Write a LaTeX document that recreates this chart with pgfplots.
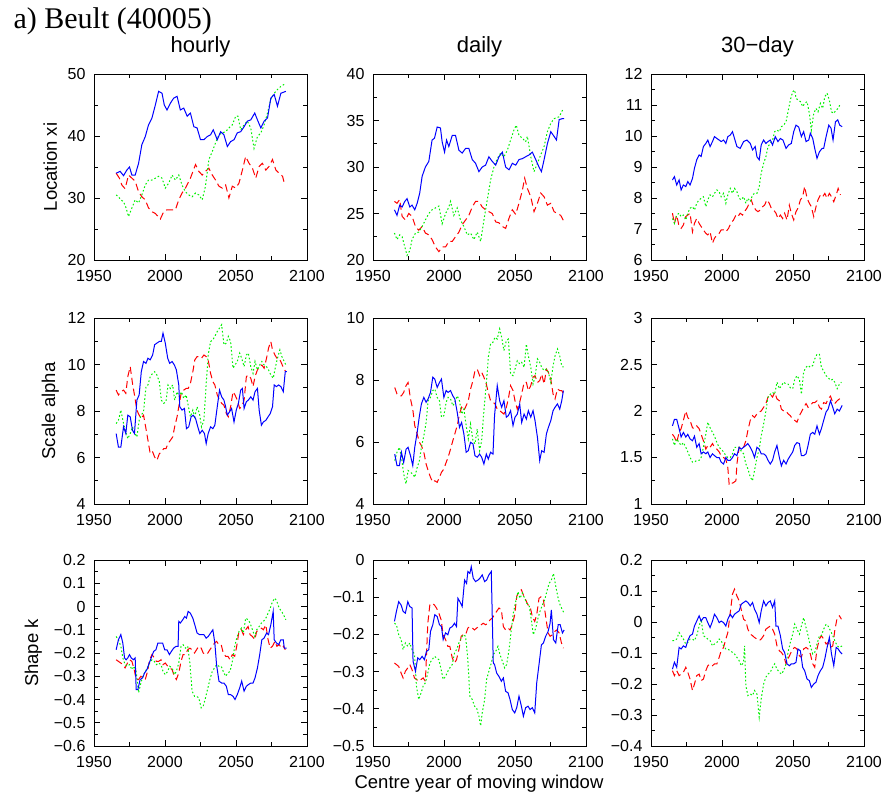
\documentclass[border=0pt]{standalone}
\usepackage{fontspec}
\setmainfont{Liberation Serif}
\setsansfont{Liberation Sans}
\usepackage{pgfplots}
\pgfplotsset{compat=1.18}
\definecolor{gpblue}{RGB}{0,0,255}
\definecolor{gpred}{RGB}{255,0,0}
\definecolor{gpgreen}{RGB}{0,240,0}
\pgfplotsset{
  panel/.style={
    scale only axis, width=213pt, height=186pt, anchor=north west,
    xmin=1950, xmax=2100, xtick={1950,2000,2050,2100},
    xticklabels={1950,2000,2050,2100},
    minor x tick num=1, minor y tick num=1,
    tick align=inside,
    major tick length=6pt, minor tick length=4pt,
    tick style={black, line width=0.8pt},
    axis line style={black, line width=1pt},
    tick label style={font=\sffamily\fontsize{16}{16}\selectfont, text=black},
    xticklabel style={yshift=-6.5pt},
    yticklabel style={xshift=-5pt},
    every axis y label/.style={at={(axis description cs:-0.205,0.5)}, rotate=90, anchor=center, font=\sffamily\fontsize{18.5}{18.5}\selectfont},
    every axis title/.style={font=\sffamily\fontsize{22}{22}\selectfont, at={(axis description cs:0.5,1.113)}, anchor=base},
  },
  bl/.style={gpblue, line width=1pt, solid},
  rd/.style={gpred, line width=1pt, dash pattern=on 7pt off 4pt},
  gr/.style={gpgreen, line width=1pt, dash pattern=on 1.6pt off 2.2pt},
}
\begin{document}
\begin{tikzpicture}
% ---------------- Row 1: Location xi ----------------
\begin{axis}[panel, at={(94pt,-74pt)}, ymin=20, ymax=50, ytick={20,30,40,50}, yticklabels={20,30,40,50}, ylabel={Location xi}, title={hourly}]
\addplot[rd] coordinates {(1965.6,34.0)(1967.9,33.2)(1969.6,32.1)(1971.9,31.5)(1974.3,33.7)(1976.7,33.2)(1979.0,32.7)(1981.4,31.0)(1983.7,30.2)(1986.1,29.7)(1988.4,28.4)(1990.8,27.8)(1993.2,27.5)(1996.7,26.6)(1999.1,27.8)(2001.4,28.1)(2005.0,28.1)(2007.3,28.1)(2009.7,29.7)(2012.0,30.8)(2014.4,31.6)(2017.9,33.2)(2021.5,35.4)(2023.8,34.3)(2026.2,33.7)(2028.5,34.3)(2030.9,34.8)(2033.3,33.7)(2035.6,32.9)(2038.0,31.9)(2040.3,31.6)(2042.7,32.1)(2045.0,30.0)(2047.4,31.9)(2049.8,31.6)(2052.1,32.4)(2054.5,34.5)(2056.8,36.7)(2059.2,35.6)(2061.6,34.8)(2063.9,33.2)(2066.3,35.1)(2068.6,35.6)(2071.0,34.5)(2073.3,35.1)(2075.7,36.2)(2078.1,34.5)(2080.4,34.0)(2082.8,33.5)(2084.0,32.4)};
\addplot[gr] coordinates {(1965.6,30.5)(1967.2,30.2)(1968.9,29.7)(1970.8,29.4)(1972.6,28.4)(1974.3,27.0)(1976.7,28.4)(1979.0,29.7)(1981.4,29.2)(1983.7,30.5)(1986.1,32.1)(1988.4,32.9)(1990.8,32.9)(1993.2,33.2)(1995.5,33.5)(1997.9,33.2)(2000.2,31.6)(2002.6,32.4)(2005.0,33.7)(2007.3,32.9)(2009.7,33.7)(2012.0,32.1)(2014.4,31.0)(2016.7,30.5)(2019.1,30.2)(2021.5,30.8)(2023.8,30.5)(2026.2,29.7)(2028.5,31.9)(2030.9,36.2)(2033.3,37.5)(2035.6,38.9)(2038.0,40.2)(2040.3,40.5)(2042.7,40.7)(2045.0,41.3)(2047.4,41.8)(2049.8,43.2)(2051.4,43.2)(2053.3,41.0)(2055.7,41.8)(2058.0,42.4)(2060.4,41.3)(2062.7,38.0)(2065.1,39.9)(2067.5,40.5)(2069.8,41.8)(2072.2,43.7)(2074.5,45.9)(2076.9,46.9)(2079.2,47.5)(2081.6,48.0)(2085.1,48.5)};
\addplot[bl] coordinates {(1965.6,34.0)(1968.4,34.3)(1970.8,33.6)(1973.1,34.5)(1975.0,35.0)(1976.7,33.7)(1979.0,33.7)(1981.4,35.6)(1983.7,38.6)(1986.1,39.9)(1988.4,41.8)(1990.8,42.9)(1993.2,45.0)(1995.5,47.2)(1997.9,46.9)(1999.5,45.0)(2001.4,44.2)(2003.8,45.3)(2006.1,46.1)(2008.5,46.4)(2010.8,44.2)(2013.2,44.5)(2015.6,43.2)(2017.9,43.7)(2020.3,41.5)(2022.6,41.3)(2025.0,39.4)(2027.4,39.4)(2029.7,39.9)(2032.1,40.2)(2034.0,41.0)(2036.8,39.4)(2039.2,40.7)(2041.5,40.2)(2043.9,38.3)(2046.2,39.1)(2048.6,39.4)(2050.9,40.5)(2053.3,40.7)(2055.7,41.5)(2058.0,42.4)(2060.4,42.6)(2063.2,43.7)(2065.1,42.6)(2067.5,41.3)(2069.8,42.4)(2072.2,42.9)(2074.5,46.1)(2076.9,46.7)(2079.2,44.8)(2081.6,46.9)(2085.1,47.2)};
\end{axis}
\begin{axis}[panel, at={(373pt,-74pt)}, ymin=20, ymax=40, ytick={20,25,30,35,40}, yticklabels={20,25,30,35,40}, title={daily}]
\addplot[rd] coordinates {(1965.1,26.3)(1966.9,26.1)(1968.8,26.5)(1970.5,24.7)(1972.8,24.3)(1975.2,25.0)(1977.5,24.7)(1979.9,23.6)(1982.2,23.2)(1984.6,23.6)(1986.9,22.9)(1989.3,22.7)(1991.6,22.2)(1994.0,21.4)(1996.4,20.9)(1998.7,21.4)(2001.1,21.4)(2003.4,22.0)(2005.8,22.0)(2008.1,22.5)(2010.5,23.0)(2012.8,23.8)(2015.2,24.3)(2017.5,24.8)(2019.9,25.7)(2022.2,26.3)(2024.6,26.3)(2026.9,25.7)(2029.3,25.4)(2031.6,25.2)(2034.0,25.0)(2036.4,24.1)(2038.7,24.0)(2041.1,23.6)(2043.4,23.4)(2045.8,24.5)(2048.1,25.4)(2050.5,24.9)(2052.8,26.1)(2055.2,27.5)(2056.8,28.8)(2058.7,27.7)(2061.1,26.8)(2063.4,25.2)(2065.8,26.1)(2068.1,27.2)(2070.5,26.8)(2072.8,25.9)(2075.2,26.1)(2077.5,25.2)(2079.9,25.0)(2082.2,24.8)(2084.6,24.1)};
\addplot[gr] coordinates {(1965.1,22.9)(1966.9,22.2)(1968.8,22.7)(1970.5,22.5)(1972.4,21.4)(1974.0,20.5)(1975.9,21.0)(1977.5,22.2)(1979.9,22.9)(1982.2,23.0)(1984.6,23.6)(1986.9,24.3)(1989.3,25.0)(1991.6,25.4)(1994.0,25.6)(1996.4,25.8)(1998.7,23.9)(2001.1,25.0)(2003.4,25.7)(2004.6,26.3)(2006.9,24.8)(2009.3,25.6)(2011.6,24.3)(2014.0,23.6)(2016.4,22.7)(2018.7,22.9)(2021.1,22.2)(2023.4,23.0)(2025.8,22.0)(2028.1,24.3)(2030.5,26.5)(2032.8,28.6)(2035.2,30.0)(2037.5,30.9)(2039.9,31.5)(2042.2,31.1)(2044.6,31.8)(2046.9,32.9)(2049.3,34.0)(2050.9,34.5)(2052.8,33.4)(2055.2,33.1)(2057.5,32.7)(2058.7,33.3)(2061.1,31.1)(2063.4,29.5)(2065.8,30.4)(2068.1,31.3)(2070.5,32.2)(2072.8,33.8)(2075.2,34.7)(2077.5,35.2)(2081.1,35.4)(2084.1,36.3)};
\addplot[bl] coordinates {(1965.1,25.4)(1966.9,24.8)(1968.8,25.9)(1970.5,25.7)(1972.4,26.3)(1974.0,26.6)(1975.9,25.7)(1977.5,25.9)(1979.4,25.4)(1981.1,26.1)(1982.9,27.2)(1984.6,29.0)(1986.9,30.0)(1989.3,30.6)(1991.6,32.9)(1993.3,33.1)(1995.2,34.3)(1997.5,34.2)(1998.7,32.7)(2000.4,31.6)(2001.8,32.9)(2003.4,32.2)(2005.8,33.4)(2008.1,33.4)(2010.5,31.8)(2012.8,31.5)(2015.2,32.0)(2017.5,32.0)(2019.9,30.8)(2022.2,30.4)(2024.6,29.5)(2026.9,30.0)(2029.3,30.2)(2031.6,31.1)(2034.0,30.6)(2036.4,30.2)(2038.7,31.1)(2041.1,31.6)(2043.4,30.0)(2045.8,29.7)(2048.1,30.4)(2050.5,30.2)(2052.8,30.8)(2055.2,30.9)(2057.5,31.1)(2059.9,31.3)(2062.2,31.6)(2064.6,30.8)(2066.9,30.0)(2068.6,29.5)(2070.5,30.8)(2072.8,32.5)(2075.2,33.8)(2077.5,33.3)(2079.2,32.9)(2081.1,35.1)(2083.4,35.2)(2084.6,35.2)};
\end{axis}
\begin{axis}[panel, at={(651pt,-74pt)}, ymin=6, ymax=12, ytick={6,7,8,9,10,11,12}, yticklabels={6,7,8,9,10,11,12}, title={30−day}]
\addplot[rd] coordinates {(1965.1,7.51)(1966.5,7.18)(1968.1,7.45)(1969.8,7.08)(1971.2,7.02)(1972.8,7.13)(1974.5,7.40)(1975.9,7.45)(1977.5,7.51)(1979.2,6.91)(1980.6,7.18)(1982.2,7.34)(1983.9,7.18)(1985.3,7.08)(1986.9,6.97)(1988.6,6.86)(1990.0,6.81)(1991.6,6.91)(1993.3,6.54)(1994.7,6.70)(1996.4,6.81)(1998.0,6.86)(1999.4,6.97)(2001.1,6.97)(2002.7,6.91)(2004.6,7.02)(2006.2,7.18)(2008.1,7.29)(2009.8,7.45)(2011.2,7.40)(2012.8,7.51)(2014.5,7.45)(2015.9,7.56)(2017.5,7.67)(2019.2,7.83)(2020.6,7.94)(2022.2,7.72)(2023.9,7.61)(2025.3,7.56)(2026.9,7.61)(2028.6,7.72)(2030.0,7.77)(2031.6,7.94)(2033.3,7.83)(2034.7,7.67)(2036.4,7.61)(2038.0,7.51)(2039.4,7.34)(2041.1,7.45)(2042.7,7.34)(2044.1,7.51)(2045.8,7.29)(2047.4,7.77)(2048.8,7.51)(2050.5,7.29)(2052.1,7.56)(2053.5,7.67)(2055.2,7.94)(2056.8,8.04)(2058.2,8.37)(2059.9,7.99)(2061.5,7.83)(2062.9,7.72)(2064.6,7.40)(2066.2,7.72)(2067.6,7.94)(2069.3,8.10)(2070.9,8.04)(2072.4,8.15)(2074.0,7.99)(2075.6,8.15)(2077.1,8.04)(2078.7,7.88)(2080.4,8.10)(2081.8,8.31)(2083.4,8.10)};
\addplot[gr] coordinates {(1965.1,7.34)(1966.5,7.18)(1968.1,7.45)(1969.8,7.51)(1971.2,7.40)(1972.8,7.45)(1974.5,7.29)(1975.9,7.51)(1977.5,7.67)(1979.2,7.72)(1980.6,7.61)(1982.2,7.83)(1983.9,7.94)(1985.3,7.99)(1986.9,8.04)(1988.6,7.72)(1990.0,7.94)(1991.6,8.10)(1993.3,8.04)(1994.7,8.15)(1996.4,8.26)(1998.0,8.20)(1999.4,8.04)(2001.1,8.15)(2002.7,7.83)(2004.1,8.10)(2005.8,8.31)(2007.4,8.15)(2008.8,8.31)(2010.5,8.20)(2012.1,7.99)(2013.5,7.94)(2015.2,8.04)(2016.8,7.83)(2018.2,7.99)(2019.9,7.88)(2021.5,8.10)(2022.9,8.15)(2024.6,8.15)(2026.2,8.37)(2027.6,8.80)(2029.3,9.12)(2030.9,9.33)(2032.4,9.66)(2034.0,9.76)(2035.6,9.87)(2037.1,10.14)(2038.7,10.19)(2040.4,10.14)(2041.8,10.30)(2043.4,10.35)(2045.1,10.46)(2046.5,10.78)(2048.1,11.16)(2049.8,11.43)(2051.2,11.48)(2052.1,11.22)(2053.5,11.16)(2055.2,11.11)(2056.8,10.95)(2058.2,11.05)(2059.9,11.11)(2061.5,10.73)(2062.9,10.19)(2064.6,10.73)(2066.2,10.89)(2067.6,10.78)(2069.3,11.05)(2070.9,10.89)(2072.4,11.27)(2074.0,11.38)(2075.6,11.16)(2077.1,10.78)(2078.7,10.73)(2080.4,10.84)(2081.8,10.89)(2083.4,11.05)};
\addplot[bl] coordinates {(1965.1,8.58)(1966.5,8.69)(1968.1,8.42)(1969.8,8.58)(1971.2,8.26)(1972.8,8.42)(1974.5,8.37)(1975.9,8.53)(1977.5,8.42)(1979.2,8.63)(1980.6,8.96)(1982.2,9.23)(1983.9,9.39)(1985.3,9.34)(1986.9,9.66)(1988.6,9.76)(1990.0,9.87)(1991.6,9.66)(1993.3,9.82)(1994.7,9.98)(1996.4,9.92)(1998.0,9.87)(1999.4,9.82)(2001.1,9.87)(2002.7,9.76)(2004.1,9.98)(2005.8,10.03)(2007.4,10.14)(2008.8,9.92)(2010.5,9.66)(2012.8,9.60)(2015.2,9.82)(2017.5,9.87)(2019.9,9.76)(2021.5,9.55)(2023.4,9.66)(2024.6,9.33)(2026.2,9.23)(2027.6,9.71)(2029.3,9.87)(2030.9,9.76)(2032.4,9.82)(2034.0,9.87)(2035.6,9.71)(2037.5,9.98)(2039.4,9.82)(2041.1,9.92)(2042.9,9.87)(2045.1,9.60)(2046.9,9.71)(2048.8,9.76)(2050.5,10.14)(2052.1,10.35)(2054.0,10.29)(2055.9,9.98)(2057.5,10.14)(2059.2,9.82)(2061.1,9.87)(2062.2,10.09)(2063.9,9.92)(2065.3,9.60)(2066.9,9.28)(2068.6,9.49)(2070.5,9.60)(2071.6,9.60)(2073.3,9.98)(2075.2,10.35)(2076.8,10.25)(2078.2,9.87)(2079.9,10.46)(2081.5,10.52)(2082.9,10.35)(2084.6,10.30)};
\end{axis}
% ---------------- Row 2: Scale alpha ----------------
\begin{axis}[panel, at={(94pt,-318pt)}, ymin=4, ymax=12, ytick={4,6,8,10,12}, yticklabels={4,6,8,10,12}, ylabel={Scale alpha}]
\addplot[rd] coordinates {(1965.6,8.90)(1967.2,8.69)(1968.9,8.83)(1970.8,8.90)(1972.4,8.76)(1973.8,9.48)(1975.5,9.91)(1977.1,9.19)(1978.5,8.69)(1980.2,8.04)(1981.8,7.82)(1983.3,7.68)(1984.9,7.82)(1986.6,7.24)(1988.0,6.74)(1989.6,6.16)(1991.3,6.24)(1992.7,6.02)(1994.3,5.88)(1996.0,6.16)(1997.4,6.24)(1999.1,6.38)(2000.7,6.38)(2002.1,6.60)(2003.8,6.74)(2005.4,6.88)(2006.8,7.32)(2008.5,7.75)(2010.1,8.33)(2011.6,8.83)(2013.2,8.90)(2014.9,8.97)(2016.3,8.97)(2017.9,9.19)(2019.6,9.69)(2021.0,10.20)(2022.6,10.34)(2024.3,10.34)(2025.7,10.27)(2027.4,10.41)(2029.0,10.34)(2030.4,10.20)(2032.1,9.62)(2033.7,9.26)(2035.1,9.12)(2036.8,8.69)(2038.4,8.47)(2039.9,8.33)(2041.5,8.25)(2043.2,7.89)(2044.6,7.75)(2046.2,8.18)(2047.9,8.83)(2049.3,8.69)(2050.9,8.47)(2052.6,8.11)(2054.0,8.18)(2055.7,8.47)(2057.3,9.48)(2058.7,9.55)(2060.4,9.41)(2062.0,9.05)(2063.4,9.48)(2065.1,9.77)(2066.7,9.91)(2068.2,9.98)(2069.8,9.84)(2071.5,10.27)(2072.9,10.70)(2074.5,10.99)(2075.7,10.63)(2077.4,10.41)(2078.8,10.27)(2080.4,10.27)(2082.1,10.05)(2083.5,9.84)(2085.1,9.69)};
\addplot[gr] coordinates {(1965.6,7.46)(1967.2,7.60)(1968.9,8.04)(1970.8,7.46)(1972.4,7.10)(1973.8,6.81)(1975.5,7.03)(1977.1,7.32)(1978.5,7.10)(1980.2,6.88)(1981.8,7.60)(1983.3,7.82)(1984.9,7.97)(1986.6,9.05)(1988.0,9.12)(1989.6,9.48)(1991.3,9.62)(1992.7,9.69)(1994.3,9.55)(1996.0,9.26)(1997.4,8.47)(1999.1,8.33)(2000.7,8.40)(2002.1,9.12)(2003.8,8.97)(2005.4,9.12)(2006.8,8.47)(2008.5,8.83)(2010.1,8.61)(2011.6,8.83)(2013.2,8.54)(2014.9,8.69)(2016.3,8.25)(2017.9,7.75)(2019.6,8.04)(2021.0,7.75)(2022.6,8.18)(2024.3,7.89)(2025.7,7.32)(2027.4,7.60)(2029.0,9.19)(2030.4,10.41)(2032.1,10.99)(2033.7,11.06)(2035.1,11.21)(2036.8,11.42)(2038.4,11.57)(2039.9,11.71)(2041.5,10.85)(2043.2,10.92)(2044.6,11.21)(2046.2,10.99)(2047.9,9.84)(2049.3,9.98)(2050.9,10.13)(2052.6,10.49)(2054.0,10.27)(2055.7,9.91)(2057.3,10.41)(2058.7,10.49)(2060.4,9.91)(2062.0,9.62)(2063.4,10.13)(2065.1,9.77)(2066.7,9.98)(2068.2,10.13)(2069.8,9.98)(2071.5,9.91)(2072.9,9.77)(2074.5,9.55)(2076.2,9.41)(2077.6,9.84)(2079.2,10.27)(2080.9,10.63)(2082.3,10.34)(2084.0,10.13)(2085.1,9.98)};
\addplot[bl] coordinates {(1965.6,7.03)(1967.2,6.45)(1968.9,6.45)(1970.8,7.32)(1972.4,7.03)(1973.8,7.82)(1975.5,7.75)(1977.1,7.17)(1978.5,7.03)(1980.2,8.47)(1981.8,8.69)(1983.3,9.69)(1984.9,10.13)(1986.6,10.05)(1988.0,10.27)(1989.6,10.20)(1991.3,10.41)(1992.7,10.85)(1994.3,10.92)(1996.0,10.99)(1997.4,10.99)(1998.6,11.35)(2000.2,10.92)(2001.9,10.27)(2003.3,10.05)(2005.0,10.13)(2006.6,9.98)(2008.0,9.77)(2009.7,9.12)(2010.4,8.18)(2012.0,8.04)(2013.7,8.11)(2015.1,7.24)(2016.7,7.32)(2018.4,7.75)(2019.8,7.82)(2021.5,7.68)(2023.1,7.32)(2024.5,7.03)(2026.2,7.17)(2027.8,7.03)(2029.0,6.60)(2030.4,7.03)(2032.1,7.32)(2033.7,7.24)(2035.1,7.39)(2036.8,8.18)(2038.4,8.90)(2039.9,8.61)(2041.5,8.47)(2042.7,8.18)(2043.9,7.82)(2045.5,7.97)(2046.9,8.11)(2048.6,7.53)(2050.2,8.04)(2051.7,8.33)(2053.3,8.90)(2054.5,8.97)(2055.7,8.11)(2057.3,8.40)(2058.7,8.47)(2060.4,8.61)(2062.0,8.47)(2063.4,8.83)(2065.1,8.97)(2066.3,8.04)(2067.9,7.39)(2069.3,7.53)(2071.0,7.60)(2072.6,7.75)(2074.1,7.89)(2075.7,8.18)(2076.9,9.12)(2078.5,9.05)(2080.0,9.12)(2081.6,9.05)(2083.3,8.83)(2084.7,9.69)(2085.8,9.69)};
\end{axis}
\begin{axis}[panel, at={(373pt,-318pt)}, ymin=4, ymax=10, ytick={4,6,8,10}, yticklabels={4,6,8,10}]
\addplot[rd] coordinates {(1965.3,7.76)(1966.9,7.55)(1968.6,7.49)(1970.0,7.49)(1971.6,7.60)(1973.3,7.82)(1974.7,7.92)(1976.4,7.39)(1978.0,7.06)(1979.4,6.53)(1981.1,6.26)(1982.7,5.99)(1984.1,5.88)(1985.8,5.67)(1987.4,5.29)(1988.8,5.08)(1990.5,4.86)(1992.1,4.70)(1993.5,4.75)(1995.2,4.70)(1996.8,4.86)(1998.2,5.02)(1999.9,5.13)(2001.5,5.34)(2002.9,5.51)(2004.6,5.77)(2006.2,6.04)(2007.6,6.26)(2009.3,6.53)(2010.9,6.90)(2012.4,7.12)(2014.0,7.01)(2015.6,7.17)(2017.1,7.33)(2018.7,7.71)(2020.4,7.98)(2021.8,8.30)(2023.4,8.35)(2025.1,8.14)(2026.5,8.25)(2028.1,8.09)(2029.8,7.87)(2031.2,7.60)(2032.8,7.33)(2034.5,7.28)(2035.9,7.23)(2037.5,7.06)(2039.2,7.01)(2040.6,6.96)(2042.2,6.90)(2043.9,7.12)(2045.3,7.39)(2046.9,7.82)(2048.6,7.66)(2050.0,7.33)(2051.6,7.06)(2053.3,7.28)(2054.7,7.55)(2056.4,7.92)(2058.0,7.92)(2059.4,7.66)(2061.1,7.82)(2062.7,8.09)(2064.1,8.14)(2065.8,7.92)(2067.4,7.98)(2068.8,8.19)(2070.5,7.87)(2072.1,8.35)(2073.5,8.25)(2075.2,8.03)(2076.8,7.55)(2078.2,7.39)(2079.9,7.71)(2081.5,7.66)(2082.9,7.66)(2084.1,7.55)};
\addplot[gr] coordinates {(1965.3,5.40)(1966.9,5.67)(1968.6,5.83)(1970.0,5.51)(1971.6,4.97)(1973.3,4.65)(1974.7,5.08)(1976.4,5.02)(1978.0,4.97)(1979.4,4.86)(1981.1,5.18)(1982.7,5.40)(1984.1,5.83)(1985.8,6.20)(1987.4,6.63)(1988.8,7.33)(1990.5,7.44)(1992.1,7.66)(1993.5,7.71)(1995.2,7.44)(1996.8,7.33)(1998.2,6.80)(1999.9,6.85)(2001.5,7.28)(2002.9,7.44)(2004.6,7.39)(2006.2,7.17)(2007.6,7.28)(2009.3,7.49)(2010.9,7.33)(2012.4,6.90)(2014.0,7.06)(2015.6,6.53)(2017.1,6.10)(2018.7,6.58)(2020.4,6.04)(2021.8,5.94)(2023.4,6.42)(2025.1,5.72)(2026.5,6.04)(2028.1,7.01)(2029.8,7.87)(2031.2,8.73)(2032.8,9.16)(2034.5,9.22)(2035.9,9.38)(2037.5,9.32)(2039.2,9.65)(2040.6,9.38)(2042.2,8.95)(2043.9,9.27)(2045.3,9.32)(2046.9,8.19)(2048.6,8.14)(2050.0,8.35)(2051.6,8.62)(2053.3,8.52)(2054.7,8.57)(2056.4,8.41)(2058.0,9.16)(2059.4,8.78)(2061.1,8.41)(2062.7,7.87)(2064.1,8.09)(2065.8,8.68)(2067.4,8.57)(2068.8,8.41)(2070.5,8.30)(2072.1,8.35)(2073.5,8.25)(2075.2,7.92)(2076.8,8.46)(2078.2,8.78)(2079.9,9.00)(2081.5,8.78)(2082.9,8.46)(2084.1,8.41)};
\addplot[bl] coordinates {(1965.3,5.61)(1966.9,5.24)(1968.6,5.24)(1970.0,5.67)(1971.6,5.34)(1973.3,5.77)(1974.7,5.83)(1976.4,5.56)(1978.0,5.24)(1979.4,5.83)(1981.1,6.31)(1982.7,6.85)(1984.1,7.23)(1985.8,7.44)(1987.4,7.28)(1988.8,7.39)(1990.5,7.60)(1992.1,8.09)(1993.5,8.03)(1995.2,7.76)(1996.8,7.92)(1998.2,8.03)(1999.9,7.44)(2001.5,7.66)(2002.9,7.60)(2004.6,7.66)(2006.2,7.49)(2007.6,7.39)(2009.3,6.96)(2010.9,6.47)(2012.4,6.63)(2014.0,6.26)(2015.6,5.67)(2017.1,5.72)(2018.7,5.99)(2020.4,5.94)(2021.8,5.56)(2023.4,5.51)(2025.1,5.61)(2026.5,5.51)(2028.1,5.29)(2029.8,5.61)(2031.2,5.45)(2032.8,5.67)(2034.5,5.61)(2035.6,6.85)(2037.5,7.82)(2039.2,7.33)(2040.6,7.12)(2042.2,7.33)(2043.9,6.80)(2045.3,6.85)(2046.9,7.01)(2048.6,6.53)(2050.0,6.80)(2051.6,6.90)(2053.3,7.23)(2054.7,6.63)(2056.4,6.90)(2058.0,6.74)(2059.4,7.01)(2061.1,6.80)(2062.7,7.01)(2064.1,6.69)(2065.8,6.15)(2067.4,5.40)(2068.8,5.72)(2070.5,5.67)(2072.1,6.26)(2073.5,6.47)(2075.2,6.69)(2076.8,7.01)(2078.2,7.12)(2079.9,7.23)(2081.5,7.06)(2082.9,7.33)(2084.1,7.66)};
\end{axis}
\begin{axis}[panel, at={(651pt,-318pt)}, ymin=1, ymax=3, ytick={1,1.5,2,2.5,3}, yticklabels={1,1.5,2,2.5,3}]
\addplot[rd] coordinates {(1965.1,1.75)(1966.5,1.72)(1968.1,1.66)(1969.8,1.77)(1971.2,1.81)(1972.8,1.90)(1974.5,2.00)(1975.9,1.93)(1977.5,1.90)(1979.2,1.82)(1980.6,1.81)(1982.2,1.84)(1983.9,1.81)(1985.3,1.75)(1986.9,1.68)(1988.6,1.59)(1990.0,1.63)(1991.6,1.61)(1993.3,1.65)(1994.7,1.61)(1996.4,1.59)(1998.0,1.56)(1999.4,1.52)(2001.1,1.50)(2002.7,1.48)(2004.1,1.39)(2005.1,1.20)(2006.5,1.22)(2008.1,1.23)(2009.8,1.25)(2010.5,1.43)(2012.1,1.61)(2013.5,1.59)(2015.2,1.61)(2016.8,1.68)(2018.2,1.79)(2019.9,1.90)(2021.5,1.95)(2022.9,1.93)(2024.6,1.97)(2026.2,1.99)(2027.6,2.00)(2029.3,2.04)(2030.9,2.08)(2032.4,2.15)(2034.0,2.18)(2035.6,2.15)(2037.1,2.20)(2038.7,2.13)(2040.4,2.11)(2041.8,2.02)(2043.4,2.00)(2045.1,2.00)(2046.5,1.97)(2048.1,1.95)(2049.8,1.91)(2051.2,1.90)(2052.8,1.88)(2054.5,1.95)(2055.9,1.99)(2057.5,2.04)(2059.2,2.08)(2060.6,2.04)(2062.2,2.06)(2063.9,2.09)(2065.3,2.09)(2066.9,2.11)(2068.6,2.04)(2070.0,2.02)(2071.6,2.09)(2073.3,2.08)(2074.7,2.13)(2076.4,2.16)(2078.0,2.09)(2079.4,2.08)(2081.1,2.11)(2082.7,2.13)(2084.6,2.16)};
\addplot[gr] coordinates {(1965.1,1.70)(1966.5,1.63)(1968.1,1.70)(1969.8,1.66)(1971.2,1.63)(1972.8,1.66)(1974.5,1.61)(1975.9,1.56)(1977.5,1.50)(1979.2,1.45)(1980.6,1.45)(1982.2,1.47)(1983.9,1.47)(1985.3,1.50)(1986.9,1.61)(1988.6,1.75)(1990.0,1.88)(1991.6,1.82)(1993.3,1.77)(1994.7,1.73)(1996.4,1.66)(1998.0,1.61)(1999.4,1.59)(2001.1,1.56)(2002.7,1.52)(2004.1,1.50)(2005.8,1.50)(2007.4,1.54)(2008.8,1.61)(2010.5,1.61)(2012.1,1.61)(2013.5,1.57)(2015.2,1.54)(2016.8,1.43)(2018.2,1.38)(2019.9,1.29)(2021.5,1.25)(2022.9,1.36)(2024.6,1.50)(2026.2,1.59)(2027.6,1.73)(2029.3,1.86)(2030.9,2.00)(2032.4,2.15)(2034.0,2.18)(2035.6,2.20)(2037.1,2.18)(2038.7,2.31)(2040.4,2.24)(2041.8,2.27)(2043.4,2.31)(2045.1,2.29)(2046.5,2.29)(2048.1,2.25)(2049.8,2.24)(2051.2,2.34)(2052.8,2.38)(2054.5,2.34)(2055.9,2.18)(2057.5,2.42)(2059.2,2.47)(2060.6,2.49)(2062.2,2.47)(2063.9,2.49)(2065.3,2.56)(2066.9,2.61)(2068.6,2.61)(2070.0,2.47)(2071.6,2.43)(2073.3,2.38)(2074.7,2.36)(2076.4,2.33)(2078.0,2.34)(2079.4,2.31)(2081.1,2.24)(2082.7,2.29)(2084.1,2.31)};
\addplot[bl] coordinates {(1965.1,1.84)(1966.5,1.91)(1968.1,1.91)(1969.8,1.81)(1971.2,1.72)(1972.8,1.77)(1974.5,1.72)(1975.9,1.75)(1977.5,1.70)(1979.2,1.68)(1980.6,1.73)(1982.2,1.61)(1983.9,1.65)(1985.3,1.54)(1986.9,1.56)(1988.6,1.54)(1990.0,1.56)(1991.6,1.50)(1993.3,1.54)(1994.7,1.52)(1996.4,1.50)(1998.0,1.50)(1999.4,1.45)(2001.1,1.43)(2002.7,1.50)(2004.1,1.47)(2005.8,1.47)(2007.4,1.50)(2008.8,1.54)(2010.5,1.52)(2012.1,1.61)(2013.5,1.59)(2015.2,1.61)(2016.8,1.63)(2018.2,1.65)(2019.9,1.61)(2021.5,1.56)(2022.9,1.50)(2024.6,1.61)(2026.2,1.59)(2027.6,1.54)(2029.3,1.54)(2030.9,1.52)(2032.4,1.47)(2034.0,1.43)(2035.6,1.47)(2037.1,1.56)(2038.7,1.63)(2040.4,1.50)(2041.8,1.41)(2043.4,1.47)(2045.1,1.43)(2046.5,1.48)(2048.1,1.52)(2049.8,1.56)(2051.2,1.63)(2052.8,1.66)(2054.5,1.65)(2055.9,1.52)(2057.5,1.52)(2059.2,1.54)(2060.6,1.63)(2062.2,1.75)(2063.9,1.77)(2065.3,1.75)(2066.9,1.84)(2068.6,1.75)(2070.0,1.81)(2071.6,1.90)(2073.3,1.99)(2074.7,2.02)(2076.4,2.11)(2078.0,2.04)(2079.4,1.97)(2081.1,2.02)(2082.7,2.00)(2084.6,2.06)};
\end{axis}
% ---------------- Row 3: Shape k ----------------
\begin{axis}[panel, at={(94pt,-560pt)}, ymin=-0.6, ymax=0.2, ytick={-0.6,-0.5,-0.4,-0.3,-0.2,-0.1,0,0.1,0.2}, yticklabels={−0.6,−0.5,−0.4,−0.3,−0.2,−0.1,0,0.1,0.2}, ylabel={Shape k}, every axis y label/.append style={at={(axis description cs:-0.285,0.5)}}]
\addplot[rd] coordinates {(1965.6,-0.229)(1967.2,-0.236)(1968.9,-0.243)(1970.3,-0.250)(1971.9,-0.264)(1973.6,-0.243)(1975.0,-0.229)(1976.7,-0.236)(1978.3,-0.271)(1979.7,-0.314)(1981.4,-0.314)(1983.0,-0.300)(1984.4,-0.307)(1986.1,-0.314)(1987.7,-0.279)(1989.2,-0.229)(1990.8,-0.207)(1992.5,-0.221)(1993.9,-0.236)(1995.5,-0.236)(1997.2,-0.229)(1998.6,-0.250)(2000.2,-0.243)(2001.9,-0.257)(2003.3,-0.264)(2005.0,-0.271)(2006.6,-0.300)(2008.0,-0.314)(2009.7,-0.286)(2011.3,-0.236)(2012.7,-0.207)(2014.4,-0.207)(2016.0,-0.186)(2017.5,-0.179)(2019.1,-0.186)(2020.8,-0.200)(2022.2,-0.186)(2023.8,-0.171)(2025.5,-0.179)(2026.9,-0.200)(2028.5,-0.207)(2030.2,-0.200)(2031.6,-0.186)(2033.3,-0.171)(2034.9,-0.157)(2036.3,-0.150)(2038.0,-0.164)(2039.6,-0.164)(2041.0,-0.200)(2042.7,-0.214)(2044.3,-0.214)(2045.8,-0.229)(2047.4,-0.207)(2049.1,-0.214)(2050.5,-0.171)(2052.1,-0.107)(2053.8,-0.100)(2055.2,-0.121)(2056.8,-0.100)(2058.5,-0.086)(2059.9,-0.121)(2061.6,-0.129)(2063.2,-0.143)(2064.6,-0.107)(2066.3,-0.100)(2067.9,-0.093)(2069.3,-0.100)(2071.0,-0.079)(2072.6,-0.143)(2074.1,-0.179)(2075.7,-0.171)(2077.4,-0.150)(2078.8,-0.171)(2080.4,-0.164)(2082.1,-0.179)(2083.5,-0.171)(2084.7,-0.186)};
\addplot[gr] coordinates {(1965.6,-0.129)(1967.2,-0.143)(1968.9,-0.171)(1970.3,-0.221)(1971.9,-0.250)(1973.6,-0.257)(1975.0,-0.250)(1976.7,-0.271)(1978.3,-0.257)(1979.7,-0.279)(1981.4,-0.371)(1983.0,-0.329)(1984.4,-0.300)(1986.1,-0.279)(1987.7,-0.264)(1989.2,-0.243)(1990.8,-0.229)(1992.5,-0.236)(1993.9,-0.250)(1995.5,-0.243)(1997.2,-0.250)(1998.6,-0.279)(2000.2,-0.293)(2001.9,-0.279)(2003.3,-0.257)(2005.0,-0.264)(2006.6,-0.293)(2008.0,-0.279)(2009.7,-0.243)(2011.3,-0.171)(2012.7,-0.164)(2014.4,-0.179)(2016.0,-0.171)(2017.5,-0.243)(2019.1,-0.364)(2020.8,-0.386)(2022.2,-0.386)(2023.8,-0.393)(2025.5,-0.436)(2026.9,-0.429)(2028.5,-0.393)(2030.2,-0.350)(2031.6,-0.314)(2033.3,-0.279)(2034.9,-0.264)(2036.3,-0.250)(2038.0,-0.257)(2039.6,-0.257)(2041.0,-0.279)(2042.7,-0.300)(2044.3,-0.286)(2045.8,-0.279)(2047.4,-0.236)(2049.1,-0.171)(2050.5,-0.136)(2052.1,-0.107)(2053.8,-0.093)(2055.2,-0.114)(2056.8,-0.050)(2058.5,-0.057)(2059.9,-0.071)(2061.6,-0.100)(2063.2,-0.129)(2064.6,-0.100)(2066.3,-0.086)(2067.9,-0.071)(2069.3,-0.064)(2071.0,-0.050)(2072.6,-0.029)(2074.1,-0.007)(2075.7,0.021)(2077.4,0.036)(2078.8,0.021)(2080.4,-0.007)(2082.1,-0.021)(2083.5,-0.036)(2085.1,-0.057)};
\addplot[bl] coordinates {(1965.6,-0.186)(1967.2,-0.143)(1968.9,-0.121)(1970.3,-0.157)(1971.5,-0.221)(1972.6,-0.229)(1973.8,-0.221)(1975.0,-0.207)(1976.2,-0.221)(1977.8,-0.229)(1979.0,-0.221)(1979.7,-0.357)(1980.9,-0.357)(1982.5,-0.314)(1984.2,-0.307)(1985.6,-0.286)(1987.3,-0.271)(1988.9,-0.243)(1990.3,-0.221)(1992.0,-0.193)(1993.6,-0.186)(1995.0,-0.157)(1996.7,-0.157)(1998.3,-0.157)(1999.8,-0.186)(2001.4,-0.186)(2003.1,-0.207)(2004.5,-0.193)(2006.1,-0.179)(2007.8,-0.171)(2009.2,-0.171)(2009.7,-0.064)(2010.8,-0.071)(2012.5,-0.057)(2013.9,-0.043)(2015.1,-0.050)(2016.3,-0.021)(2017.9,-0.029)(2019.6,-0.050)(2021.0,-0.079)(2022.6,-0.114)(2024.3,-0.121)(2025.7,-0.121)(2027.4,-0.121)(2029.0,-0.136)(2030.4,-0.129)(2032.1,-0.114)(2033.7,-0.100)(2035.1,-0.157)(2036.3,-0.250)(2038.0,-0.321)(2039.9,-0.329)(2041.5,-0.329)(2043.2,-0.343)(2044.6,-0.379)(2046.2,-0.379)(2047.9,-0.386)(2049.3,-0.400)(2050.9,-0.379)(2052.6,-0.350)(2054.0,-0.321)(2055.7,-0.364)(2057.3,-0.343)(2058.7,-0.336)(2060.4,-0.329)(2062.0,-0.329)(2063.4,-0.307)(2065.1,-0.264)(2066.7,-0.207)(2068.2,-0.143)(2069.8,-0.136)(2071.5,-0.114)(2072.9,-0.121)(2074.5,-0.079)(2076.2,-0.021)(2076.9,-0.143)(2078.5,-0.157)(2080.0,-0.164)(2081.6,-0.143)(2083.3,-0.143)(2084.0,-0.179)(2085.6,-0.179)};
\end{axis}
\begin{axis}[panel, at={(373pt,-560pt)}, ymin=-0.5, ymax=0, ytick={-0.5,-0.4,-0.3,-0.2,-0.1,0}, yticklabels={−0.5,−0.4,−0.3,−0.2,−0.1,0}]
\addplot[rd] coordinates {(1965.1,-0.277)(1966.5,-0.281)(1968.1,-0.286)(1969.8,-0.304)(1971.2,-0.317)(1972.8,-0.299)(1974.5,-0.290)(1975.9,-0.281)(1977.5,-0.295)(1979.2,-0.317)(1980.6,-0.321)(1982.2,-0.326)(1983.9,-0.321)(1985.3,-0.317)(1986.9,-0.326)(1988.6,-0.170)(1990.0,-0.121)(1991.6,-0.116)(1993.3,-0.121)(1994.7,-0.129)(1996.4,-0.143)(1998.0,-0.161)(1999.4,-0.201)(2001.1,-0.214)(2002.7,-0.232)(2004.1,-0.232)(2005.8,-0.263)(2007.4,-0.277)(2008.8,-0.268)(2010.5,-0.241)(2012.1,-0.205)(2013.5,-0.201)(2015.2,-0.201)(2016.8,-0.183)(2018.2,-0.179)(2019.9,-0.183)(2021.5,-0.188)(2022.9,-0.183)(2024.6,-0.179)(2026.2,-0.174)(2027.6,-0.170)(2029.3,-0.174)(2030.9,-0.170)(2032.4,-0.161)(2034.0,-0.156)(2035.6,-0.147)(2037.1,-0.138)(2038.7,-0.129)(2040.4,-0.134)(2041.8,-0.179)(2043.4,-0.188)(2045.1,-0.183)(2046.5,-0.188)(2048.1,-0.174)(2049.8,-0.147)(2051.2,-0.098)(2052.8,-0.085)(2054.5,-0.080)(2055.9,-0.094)(2057.5,-0.107)(2059.2,-0.121)(2060.6,-0.125)(2062.2,-0.152)(2063.9,-0.165)(2065.3,-0.147)(2066.9,-0.103)(2068.6,-0.098)(2070.0,-0.107)(2071.6,-0.152)(2073.3,-0.196)(2074.7,-0.205)(2076.4,-0.201)(2078.0,-0.192)(2079.4,-0.188)(2081.1,-0.196)(2082.7,-0.223)(2084.1,-0.237)};
\addplot[gr] coordinates {(1965.1,-0.170)(1966.5,-0.174)(1968.1,-0.201)(1969.8,-0.214)(1971.2,-0.241)(1972.8,-0.223)(1974.5,-0.232)(1975.9,-0.223)(1977.5,-0.241)(1979.2,-0.254)(1980.6,-0.339)(1982.2,-0.375)(1983.9,-0.357)(1985.3,-0.339)(1986.9,-0.330)(1988.6,-0.304)(1990.0,-0.277)(1991.6,-0.268)(1993.3,-0.259)(1994.7,-0.263)(1996.4,-0.268)(1998.0,-0.295)(1999.4,-0.321)(2001.1,-0.313)(2002.7,-0.299)(2004.1,-0.290)(2005.8,-0.281)(2007.4,-0.250)(2008.8,-0.241)(2010.5,-0.223)(2012.1,-0.210)(2013.5,-0.201)(2015.2,-0.205)(2016.8,-0.268)(2018.2,-0.366)(2019.9,-0.375)(2021.5,-0.393)(2022.9,-0.397)(2024.6,-0.420)(2025.8,-0.446)(2026.9,-0.411)(2028.6,-0.375)(2030.0,-0.321)(2031.6,-0.299)(2033.3,-0.277)(2034.7,-0.254)(2036.4,-0.246)(2038.0,-0.232)(2039.4,-0.254)(2041.1,-0.272)(2042.7,-0.290)(2044.1,-0.281)(2045.8,-0.241)(2047.4,-0.188)(2048.8,-0.143)(2050.5,-0.112)(2052.1,-0.085)(2053.5,-0.103)(2055.2,-0.089)(2056.8,-0.103)(2058.2,-0.116)(2059.9,-0.121)(2061.5,-0.161)(2062.9,-0.201)(2064.6,-0.183)(2066.2,-0.156)(2067.6,-0.138)(2069.3,-0.121)(2070.9,-0.107)(2072.4,-0.085)(2074.0,-0.063)(2075.6,-0.054)(2077.1,-0.036)(2078.7,-0.071)(2080.4,-0.103)(2081.8,-0.121)(2083.4,-0.134)(2084.6,-0.143)};
\addplot[bl] coordinates {(1965.1,-0.165)(1966.5,-0.138)(1968.1,-0.112)(1969.8,-0.121)(1971.2,-0.138)(1972.8,-0.143)(1974.5,-0.112)(1975.9,-0.125)(1977.5,-0.129)(1978.2,-0.272)(1979.9,-0.299)(1981.5,-0.263)(1982.9,-0.268)(1984.6,-0.259)(1986.2,-0.268)(1987.6,-0.246)(1989.3,-0.241)(1990.5,-0.192)(1992.1,-0.174)(1993.5,-0.147)(1995.2,-0.152)(1996.8,-0.174)(1998.2,-0.179)(1999.4,-0.214)(2001.1,-0.196)(2002.7,-0.201)(2004.1,-0.183)(2005.8,-0.179)(2007.4,-0.170)(2008.8,-0.179)(2009.8,-0.103)(2011.2,-0.112)(2012.8,-0.125)(2014.5,-0.054)(2015.9,-0.063)(2016.8,-0.031)(2018.2,-0.036)(2019.2,-0.018)(2020.6,-0.049)(2022.2,-0.058)(2023.9,-0.054)(2025.3,-0.049)(2026.9,-0.040)(2028.6,-0.058)(2030.0,-0.054)(2031.6,-0.040)(2033.3,-0.031)(2034.7,-0.277)(2035.6,-0.281)(2037.1,-0.304)(2038.7,-0.313)(2040.4,-0.326)(2041.8,-0.317)(2043.4,-0.353)(2045.1,-0.357)(2046.5,-0.375)(2048.1,-0.402)(2049.8,-0.411)(2051.2,-0.397)(2052.8,-0.366)(2054.5,-0.393)(2055.9,-0.420)(2057.5,-0.397)(2059.2,-0.393)(2060.6,-0.402)(2062.2,-0.397)(2063.9,-0.411)(2065.3,-0.330)(2066.9,-0.281)(2068.6,-0.228)(2070.0,-0.223)(2071.6,-0.205)(2073.3,-0.192)(2074.7,-0.170)(2075.6,-0.134)(2077.1,-0.214)(2078.7,-0.223)(2080.4,-0.174)(2081.8,-0.174)(2083.4,-0.196)(2084.6,-0.188)};
\end{axis}
\begin{axis}[panel, at={(651pt,-560pt)}, ymin=-0.4, ymax=0.2, ytick={-0.4,-0.3,-0.2,-0.1,0,0.1,0.2}, yticklabels={−0.4,−0.3,−0.2,−0.1,0,0.1,0.2}]
\addplot[rd] coordinates {(1965.1,-0.157)(1966.5,-0.173)(1968.1,-0.157)(1969.8,-0.173)(1971.2,-0.168)(1972.8,-0.162)(1974.5,-0.146)(1975.9,-0.162)(1977.5,-0.184)(1979.2,-0.221)(1980.6,-0.200)(1982.2,-0.173)(1983.9,-0.168)(1985.3,-0.189)(1986.9,-0.184)(1988.6,-0.157)(1990.0,-0.141)(1991.6,-0.135)(1993.3,-0.141)(1994.7,-0.135)(1996.4,-0.135)(1998.0,-0.114)(1999.4,-0.093)(2001.1,-0.082)(2002.7,-0.055)(2004.1,-0.034)(2005.8,0.030)(2007.4,0.090)(2008.8,0.106)(2010.5,0.084)(2012.1,0.068)(2013.5,0.041)(2015.2,0.009)(2016.8,0.003)(2018.2,-0.023)(2019.9,-0.039)(2021.5,-0.044)(2022.9,-0.050)(2024.6,-0.055)(2026.2,-0.060)(2027.6,-0.055)(2029.3,-0.044)(2030.9,-0.023)(2032.4,-0.018)(2034.0,-0.013)(2035.6,-0.023)(2037.1,-0.039)(2038.7,-0.077)(2040.4,-0.093)(2041.8,-0.098)(2043.4,-0.109)(2045.1,-0.135)(2046.5,-0.119)(2048.1,-0.103)(2049.8,-0.087)(2051.2,-0.082)(2052.8,-0.087)(2054.5,-0.109)(2055.9,-0.114)(2057.5,-0.087)(2059.2,-0.082)(2060.6,-0.087)(2062.2,-0.103)(2063.9,-0.135)(2065.3,-0.146)(2066.9,-0.087)(2068.6,-0.055)(2070.0,-0.044)(2071.6,-0.055)(2073.3,-0.071)(2074.7,-0.066)(2076.4,-0.082)(2078.0,-0.077)(2079.4,-0.028)(2081.1,0.014)(2082.7,0.020)(2084.1,0.009)};
\addplot[gr] coordinates {(1965.1,-0.060)(1966.5,-0.060)(1968.1,-0.055)(1969.8,-0.034)(1971.2,-0.044)(1972.8,-0.055)(1974.5,-0.071)(1975.9,-0.066)(1977.5,-0.055)(1979.2,-0.055)(1980.6,-0.060)(1982.2,-0.044)(1983.9,-0.013)(1985.3,0.009)(1986.9,-0.044)(1988.6,-0.050)(1990.0,-0.055)(1991.6,-0.060)(1993.3,-0.077)(1994.7,-0.071)(1996.4,-0.066)(1998.0,-0.055)(1999.4,-0.060)(2001.1,-0.077)(2002.7,-0.087)(2004.1,-0.087)(2005.8,-0.093)(2007.4,-0.098)(2008.8,-0.103)(2010.5,-0.114)(2012.1,-0.125)(2013.5,-0.141)(2015.2,-0.130)(2015.9,-0.077)(2016.8,-0.205)(2018.2,-0.237)(2019.9,-0.232)(2021.5,-0.237)(2022.9,-0.221)(2024.6,-0.232)(2026.2,-0.307)(2027.6,-0.248)(2029.3,-0.200)(2030.9,-0.178)(2032.4,-0.168)(2034.0,-0.162)(2035.6,-0.146)(2037.1,-0.135)(2038.7,-0.152)(2040.4,-0.162)(2041.8,-0.168)(2043.4,-0.157)(2045.1,-0.135)(2046.5,-0.098)(2048.1,-0.066)(2049.8,-0.039)(2051.2,-0.007)(2052.8,-0.023)(2054.5,-0.039)(2055.9,-0.013)(2057.5,0.014)(2059.2,-0.018)(2060.6,-0.044)(2062.2,-0.077)(2063.9,-0.103)(2065.3,-0.098)(2066.9,-0.071)(2068.6,-0.044)(2070.0,-0.044)(2071.6,-0.023)(2073.3,-0.007)(2074.7,-0.013)(2076.4,-0.028)(2078.0,-0.044)(2079.4,-0.060)(2081.1,-0.077)(2082.7,-0.082)(2084.6,-0.077)};
\addplot[bl] coordinates {(1965.1,-0.152)(1966.5,-0.130)(1968.1,-0.146)(1969.8,-0.082)(1971.2,-0.087)(1972.8,-0.077)(1974.5,-0.082)(1975.9,-0.060)(1977.5,-0.044)(1979.2,-0.039)(1980.6,-0.013)(1982.2,0.003)(1983.9,0.020)(1985.3,0.003)(1986.9,0.014)(1988.6,0.014)(1990.0,-0.002)(1991.6,-0.018)(1993.3,0.003)(1994.7,0.025)(1996.4,0.014)(1998.0,-0.002)(1999.4,0.003)(2001.1,-0.002)(2002.7,-0.013)(2004.1,0.009)(2005.8,0.025)(2007.4,0.014)(2008.8,0.025)(2010.5,0.031)(2012.1,0.036)(2013.5,0.057)(2015.2,0.063)(2016.8,0.068)(2018.2,0.063)(2019.9,0.052)(2021.5,0.063)(2022.9,0.041)(2024.6,0.025)(2026.2,-0.002)(2027.6,0.036)(2029.3,0.068)(2030.9,0.052)(2032.4,0.063)(2034.0,0.068)(2035.6,0.047)(2037.1,0.068)(2038.0,-0.013)(2039.4,-0.013)(2041.1,-0.044)(2042.7,-0.087)(2044.1,-0.098)(2045.8,-0.135)(2047.4,-0.141)(2048.8,-0.135)(2050.5,-0.135)(2052.1,-0.130)(2053.5,-0.087)(2055.2,-0.093)(2056.8,-0.146)(2058.2,-0.157)(2059.9,-0.184)(2061.5,-0.189)(2062.9,-0.211)(2064.6,-0.200)(2066.2,-0.194)(2067.6,-0.173)(2069.3,-0.157)(2070.9,-0.146)(2072.4,-0.119)(2074.0,-0.082)(2075.6,-0.050)(2077.1,-0.103)(2078.7,-0.141)(2080.4,-0.082)(2081.8,-0.087)(2083.4,-0.098)(2084.6,-0.103)};
\end{axis}
\node[anchor=base west, font=\fontsize{30}{30}\selectfont] at (10pt,-28pt) {a) Beult (40005)};
\node[anchor=base, font=\sffamily\fontsize{18.5}{18.5}\selectfont] at (479pt,-788pt) {Centre year of moving window};
\pgfresetboundingbox
\path (0pt,0pt) rectangle (886pt,-796pt);
\end{tikzpicture}
\end{document}
